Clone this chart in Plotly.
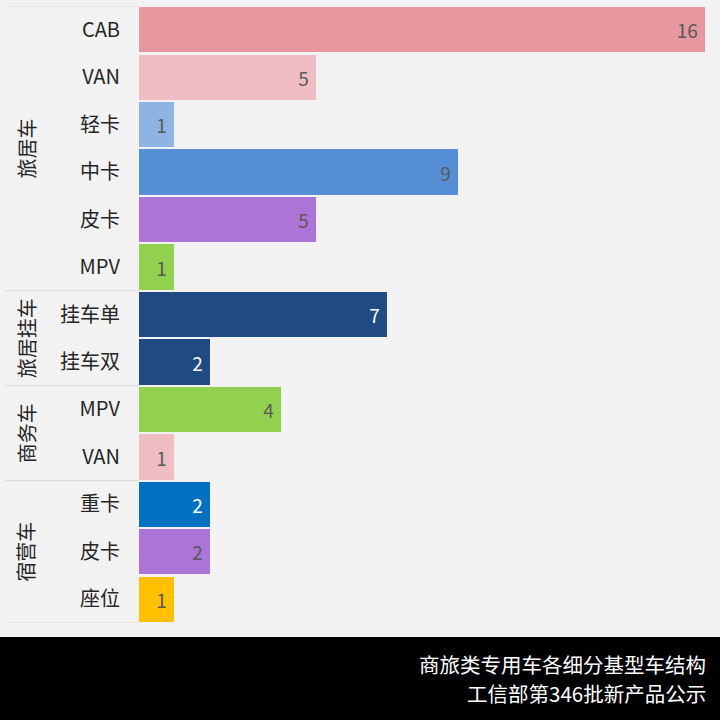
import plotly.graph_objects as go

groups = ["旅居车"] * 6 + ["旅居挂车"] * 2 + ["商务车"] * 2 + ["宿营车"] * 3
subs = ["CAB", "VAN", "轻卡", "中卡", "皮卡", "MPV", "挂车单", "挂车双", "MPV", "VAN", "重卡", "皮卡", "座位"]
values = [16, 5, 1, 9, 5, 1, 7, 2, 4, 1, 2, 2, 1]
colors = ["#e6989e", "#f0bec2", "#8eb4e3", "#558ed5", "#ab74d6", "#92d050",
          "#1f4a84", "#1f4a84", "#92d050", "#f0bec2", "#0070c0", "#ab74d6", "#ffc000"]
text_colors = ["#595959", "#595959", "#595959", "#595959", "#595959", "#595959",
               "#ffffff", "#ffffff", "#595959", "#595959", "#ffffff", "#595959", "#595959"]
title_lines = ["商旅类专用车各细分基型车结构", "工信部第346批新产品公示"]

FONT = "Noto Sans CJK SC, Microsoft YaHei, sans-serif"
pos = list(range(len(subs)))

fig = go.Figure(go.Bar(
    x=values, y=pos, orientation="h",
    marker=dict(color=colors, line=dict(width=0)),
    width=0.955,
    text=[f"{v} " for v in values],
    textposition="inside", insidetextanchor="end",
    textfont=dict(size=19, color=text_colors, family=FONT),
    hoverinfo="skip",
))

W, H = 720, 720
L, R, T, B = 139, 11, 6, 97
pw, ph = W - L - R, H - T - B

order = []
for g in groups:
    if g not in order:
        order.append(g)
shapes = []
annotations = []
bounds = [-0.5]
for g in order:
    idx = [i for i, gg in enumerate(groups) if gg == g]
    lo, hi = idx[0] - 0.5, idx[-1] + 0.5
    bounds.append(hi)
    annotations.append(dict(
        x=(26 - L) / pw, xref="paper", y=(lo + hi) / 2, yref="y",
        text=g, textangle=-90, showarrow=False,
        font=dict(size=20, color="#262626", family=FONT),
        xanchor="center", yanchor="middle"))
for b in bounds:
    shapes.append(dict(type="line", xref="paper", yref="y",
                       x0=(5 - L) / pw, x1=0, y0=b, y1=b,
                       line=dict(color="#d9d9d9", width=1)))

# black footer band
shapes.append(dict(type="rect", xref="paper", yref="paper",
                   x0=-L / pw - 0.01, x1=1 + R / pw + 0.01,
                   y0=-(637 - (H - B)) / ph, y1=-(H - (H - B)) / ph - 0.01,
                   fillcolor="#000000", line=dict(width=0), layer="above"))
for line, yc in zip(title_lines, [664, 693]):
    annotations.append(dict(
        x=1 + (707 - (W - R)) / pw, xref="paper", y=-(yc - (H - B)) / ph, yref="paper",
        text=line, showarrow=False, align="right", borderpad=0,
        xanchor="right", yanchor="middle",
        font=dict(size=20.5, color="#ffffff", family=FONT)))

fig.update_layout(
    width=W, height=H,
    margin=dict(l=L, r=R, t=T, b=B),
    paper_bgcolor="#f2f2f2", plot_bgcolor="#f2f2f2",
    showlegend=False, shapes=shapes, annotations=annotations,
    bargap=0,
    xaxis=dict(range=[0, 16.1], visible=False, fixedrange=True),
    yaxis=dict(tickvals=pos, ticktext=subs, autorange=False, range=[12.5, -0.5],
               showgrid=False, zeroline=False, showline=False, ticks="",
               ticklabelstandoff=18, fixedrange=True,
               tickfont=dict(size=20, color="#262626", family=FONT)),
)

fig.write_html("out.html", config={"displayModeBar": False},
               post_script="document.body.style.margin='0';document.body.style.background='#f2f2f2';")
